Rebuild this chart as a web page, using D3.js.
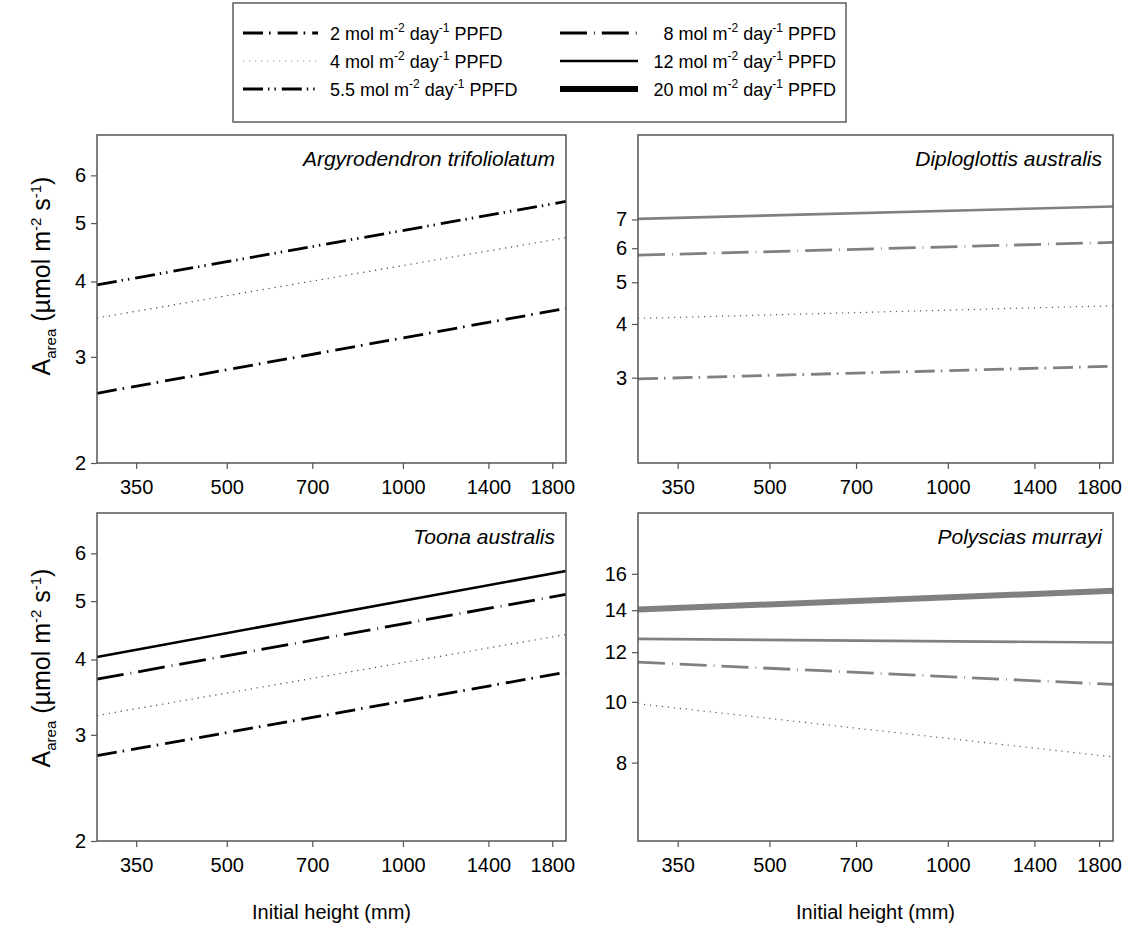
<!DOCTYPE html>
<html>
<head>
<meta charset="utf-8">
<script src="https://cdn.jsdelivr.net/npm/d3@7"></script>
<style>
  html, body { margin: 0; padding: 0; background: #fff; }
  text { font-family: "Liberation Sans", Arial, sans-serif; }
</style>
</head>
<body>
<div id="chart"></div>
<script>
// ---------------- DATA ----------------
const heightDomain = [300, 1900];           // initial height (mm), x axis extent
const lineHeights = [300, 1900];            // x values at which each fitted line is given
const xTickValues = [350, 500, 700, 1000, 1400, 1800];

const ppfdLevels = ["2", "4", "5.5", "8", "12", "20"];

const leftYDomain = [2, 7];
const leftYTicks = [2, 3, 4, 5, 6];
const diploYDomain = [1.9, 11];
const diploYTicks = [3, 4, 5, 6, 7];
const polyYDomain = [6, 20];
const polyYTicks = [8, 10, 12, 14, 16];

// Argyrodendron trifoliolatum
const argyroSeries = ["2", "4", "5.5"];
const argyroValues = [[2.61, 3.61], [3.48, 4.73], [3.95, 5.43]];
// Diploglottis australis
const diploSeries = ["2", "4", "8", "12"];
const diploValues = [[2.98, 3.19], [4.12, 4.41], [5.78, 6.19], [7.02, 7.5]];
// Toona australis
const toonaSeries = ["2", "4", "8", "12"];
const toonaValues = [[2.77, 3.81], [3.23, 4.40], [3.71, 5.13], [4.04, 5.61]];
// Polyscias murrayi
const polySeries = ["4", "8", "12", "20"];
const polyValues = [[9.93, 8.17], [11.57, 10.66], [12.6, 12.43], [14.03, 15.03]];

// ---------------- STYLES ----------------
const lineStyle = {
  "2":   { dash: "20 6 1.6 7", width: 2.8 },
  "4":   { dash: "1.2 4.8", width: 1.2 },
  "5.5": { dash: "20 5 1.4 5 1.4 6", width: 2.8 },
  "8":   { dash: "27 7 0.8 7", width: 2.8 },
  "12":  { dash: null, width: 2.6 },
  "20":  { dash: null, width: 6 }
};

const W = 1127, H = 931;
const svg = d3.select("#chart").append("svg")
  .attr("width", W).attr("height", H)
  .style("display", "block");

const panels = [
  { title: "Argyrodendron trifoliolatum", x0: 97, x1: 566, y0: 135, y1: 463,
    yDomain: leftYDomain, yTicks: leftYTicks, series: argyroSeries, values: argyroValues, color: "#000", dotColor: "#444" },
  { title: "Diploglottis australis", x0: 638, x1: 1113, y0: 135, y1: 463,
    yDomain: diploYDomain, yTicks: diploYTicks, series: diploSeries, values: diploValues, color: "#808080", dotColor: "#555" },
  { title: "Toona australis", x0: 97, x1: 566, y0: 513, y1: 841,
    yDomain: leftYDomain, yTicks: leftYTicks, series: toonaSeries, values: toonaValues, color: "#000", dotColor: "#444" },
  { title: "Polyscias murrayi", x0: 638, x1: 1113, y0: 513, y1: 841,
    yDomain: polyYDomain, yTicks: polyYTicks, series: polySeries, values: polyValues, color: "#808080", dotColor: "#555" }
];

panels.forEach((p, pi) => {
  const x = d3.scaleLog().domain(heightDomain).range([p.x0, p.x1]);
  const y = d3.scaleLog().domain(p.yDomain).range([p.y1, p.y0]);
  const g = svg.append("g");

  const xa = g.append("g").attr("transform", `translate(0,${p.y1})`)
    .call(d3.axisBottom(x).tickValues(xTickValues).tickFormat(d3.format("d"))
      .tickSize(6).tickSizeOuter(0).tickPadding(11));
  const ya = g.append("g").attr("transform", `translate(${p.x0},0)`)
    .call(d3.axisLeft(y).tickValues(p.yTicks).tickFormat(d3.format("d"))
      .tickSize(6).tickSizeOuter(0).tickPadding(5));
  [xa, ya].forEach(a => {
    a.select(".domain").remove();
    a.selectAll(".tick line").attr("stroke", "#555").attr("stroke-width", 1.2);
    a.selectAll(".tick text").attr("fill", "#000").style("font-size", "20px")
      .style("font-family", "'Liberation Sans', Arial, sans-serif");
  });

  const line = d3.line().x(d => x(d[0])).y(d => y(d[1]));
  p.series.forEach((s, i) => {
    const st = lineStyle[s];
    const pts = lineHeights.map((h, k) => [h, p.values[i][k]]);
    g.append("path")
      .attr("d", line(pts))
      .attr("fill", "none")
      .attr("stroke", s === "4" ? p.dotColor : p.color)
      .attr("stroke-width", st.width)
      .attr("stroke-dasharray", st.dash);
  });

  g.append("rect")
    .attr("x", p.x0).attr("y", p.y0)
    .attr("width", p.x1 - p.x0).attr("height", p.y1 - p.y0)
    .attr("fill", "none").attr("stroke", "#555").attr("stroke-width", 1.5);

  g.append("text")
    .attr("x", p.x1 - 11).attr("y", p.y0 + 31)
    .attr("text-anchor", "end")
    .style("font-size", "21px").style("font-style", "italic")
    .text(p.title);

  if (pi >= 2) {
    g.append("text")
      .attr("x", (p.x0 + p.x1) / 2).attr("y", 919)
      .attr("text-anchor", "middle")
      .style("font-size", "20px")
      .text("Initial height (mm)");
  }
  if (pi % 2 === 0) {
    const cy = pi === 0 ? 276 : 668;
    const t = g.append("text")
      .attr("transform", `translate(50,${cy}) rotate(-90)`)
      .attr("text-anchor", "middle")
      .style("font-size", "25px");
    t.append("tspan").text("A");
    t.append("tspan").attr("dy", 6).style("font-size", "15px").text("area");
    t.append("tspan").attr("dy", -6).text(" (µmol m");
    t.append("tspan").attr("dy", -9).style("font-size", "15px").text("-2");
    t.append("tspan").attr("dy", 9).text(" s");
    t.append("tspan").attr("dy", -9).style("font-size", "15px").text("-1");
    t.append("tspan").attr("dy", 9).text(")");
  }
});

// ---------------- LEGEND ----------------
const lg = svg.append("g");
lg.append("rect").attr("x", 233).attr("y", 3).attr("width", 613).attr("height", 119)
  .attr("fill", "#fff").attr("stroke", "#444").attr("stroke-width", 1.3);

const legendRows = [33, 61, 89];
ppfdLevels.forEach((lev, i) => {
  const col = i < 3 ? 0 : 1;
  const ry = legendRows[i % 3];
  const st = lineStyle[lev];
  const lx0 = col === 0 ? 243 : 560;
  const lx1 = col === 0 ? 318 : 638;
  lg.append("line")
    .attr("x1", lx0).attr("x2", lx1).attr("y1", ry).attr("y2", ry)
    .attr("stroke", lev === "4" ? "#888" : "#000")
    .attr("stroke-width", st.width)
    .attr("stroke-dasharray", st.dash);
  const t = lg.append("text")
    .attr("x", col === 0 ? 330 : 836)
    .attr("y", ry + 7)
    .attr("text-anchor", col === 0 ? "start" : "end")
    .style("font-size", "18px");
  t.append("tspan").text(`${lev} mol m`);
  t.append("tspan").attr("dy", -8).style("font-size", "12px").text("-2");
  t.append("tspan").attr("dy", 8).text(" day");
  t.append("tspan").attr("dy", -8).style("font-size", "12px").text("-1");
  t.append("tspan").attr("dy", 8).text(" PPFD");
});
</script>
</body>
</html>
